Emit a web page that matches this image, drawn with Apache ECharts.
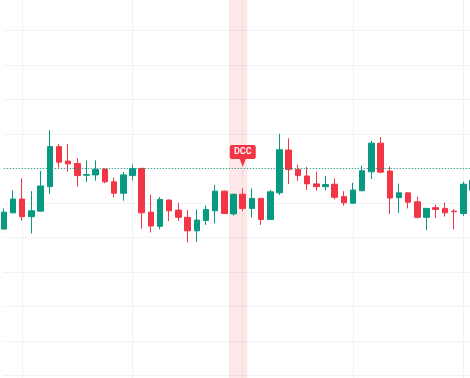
<!DOCTYPE html>
<html>
<head>
<meta charset="utf-8">
<script src="https://cdn.jsdelivr.net/npm/echarts@6/dist/echarts.min.js"></script>
<style>
  html, body { margin: 0; padding: 0; background: #fff; }
  #chart { width: 470px; height: 378px; }
</style>
</head>
<body>
<div id="chart"></div>
<script>
const categories = [
  '2024-01-02', '2024-01-03', '2024-01-04', '2024-01-05', '2024-01-08', '2024-01-09', '2024-01-10', '2024-01-11',
  '2024-01-12', '2024-01-15', '2024-01-16', '2024-01-17', '2024-01-18', '2024-01-19', '2024-01-22', '2024-01-23',
  '2024-01-24', '2024-01-25', '2024-01-26', '2024-01-29', '2024-01-30', '2024-01-31', '2024-02-01', '2024-02-02',
  '2024-02-05', '2024-02-06', '2024-02-07', '2024-02-08', '2024-02-09', '2024-02-12', '2024-02-13', '2024-02-14',
  '2024-02-15', '2024-02-16', '2024-02-19', '2024-02-20', '2024-02-21', '2024-02-22', '2024-02-23', '2024-02-26',
  '2024-02-27', '2024-02-28', '2024-02-29', '2024-03-01', '2024-03-04', '2024-03-05', '2024-03-06', '2024-03-07',
  '2024-03-08', '2024-03-11', '2024-03-12', '2024-03-13'
]

const opens = [
  25.25, 25.72, 26.12, 25.61, 25.77, 26.48, 27.64, 27.22, 27.15, 26.81, 26.82, 26.99, 26.62,
  26.29, 26.80, 27.01, 25.74, 25.33, 26.09, 25.80, 25.59, 25.20, 25.50, 25.78, 26.35, 25.69,
  26.26, 25.85, 26.14, 25.53, 26.30, 27.54, 26.98, 26.79, 26.56, 26.48, 26.55, 26.19, 26.00,
  26.36, 26.91, 27.74, 26.93, 26.16, 26.30, 26.04, 25.59, 25.87, 25.85, 25.77, 25.70, 26.38
]
const closes = [
  25.74, 26.12, 25.61, 25.78, 26.50, 27.64, 27.19, 27.14, 26.80, 26.83, 26.98, 26.62, 26.29,
  26.82, 27.00, 25.72, 25.34, 26.11, 25.78, 25.59, 25.20, 25.51, 25.82, 26.35, 25.70, 26.26,
  25.85, 26.14, 25.53, 26.33, 27.55, 26.98, 26.80, 26.56, 26.48, 26.54, 26.17, 26.01, 26.38,
  26.94, 27.74, 26.90, 26.15, 26.30, 26.03, 25.59, 25.85, 25.82, 25.72, 25.75, 26.55, 26.66
]
const lows = [
  25.24, 25.71, 25.49, 25.12, 25.76, 26.27, 27.03, 26.91, 26.48, 26.61, 26.65, 26.58, 26.17,
  26.07, 26.66, 25.26, 25.15, 25.24, 25.48, 25.49, 24.86, 24.88, 25.37, 25.41, 25.69, 25.64,
  25.77, 25.59, 25.37, 25.52, 26.24, 26.56, 26.65, 26.38, 26.36, 26.37, 26.11, 25.93, 25.99,
  26.35, 26.70, 26.87, 25.69, 25.72, 25.85, 25.56, 25.22, 25.57, 25.61, 25.24, 25.63, 26.32
]
const highs = [
  25.85, 26.37, 26.72, 26.35, 26.94, 28.12, 27.72, 27.72, 27.30, 27.24, 27.24, 27.01, 26.74,
  26.90, 27.12, 27.02, 26.25, 26.18, 26.11, 26.01, 25.80, 25.82, 25.94, 26.53, 26.37, 26.27,
  26.43, 26.43, 26.15, 26.38, 28.01, 27.88, 27.12, 27.05, 26.91, 26.79, 26.72, 26.35, 26.59,
  27.09, 27.81, 27.92, 27.06, 26.57, 26.31, 26.19, 25.86, 25.96, 26.01, 25.83, 26.62, 26.73
]

// marked bar + reference price
const markIndex = 26
const markLabel = 'DCC'
const refPrice = 27
const yTicks = { min: 20, max: 32, interval: 1 }

const upColor = '#089981'
const downColor = '#f23645'
const gridColor = '#f0f2f5'

// echarts wants [open, close, low, high]
const ohlc = opens.map((o, i) => [o, closes[i], lows[i], highs[i]])

const chart = echarts.init(document.getElementById('chart'))

chart.setOption({
  animation: false,
  grid: { left: 3.8, right: -2.5, top: -3.8, height: 414, outerBoundsMode: 'none' },
  xAxis: [
    {
      type: 'category',
      data: categories,
      boundaryGap: false,
      axisLine: { show: false },
      axisTick: { show: false },
      axisLabel: { show: false },
      splitLine: {
        show: true,
        interval: (index) => index % 12 === 2,
        lineStyle: { color: gridColor, width: 1 },
      },
    },
    {
      // helper axis so the highlight band can cover whole bars
      type: 'value',
      min: 0,
      max: categories.length - 1,
      show: false,
    },
  ],
  yAxis: {
    type: 'value',
    min: yTicks.min,
    max: yTicks.max,
    interval: yTicks.interval,
    axisLine: { show: false },
    axisTick: { show: false },
    axisLabel: { show: false },
    splitLine: { lineStyle: { color: gridColor, width: 1 } },
  },
  series: [
    {
      type: 'line',
      xAxisIndex: 1,
      data: [],
      z: 1,
      silent: true,
      markArea: {
        silent: true,
        itemStyle: { color: 'rgba(242, 54, 69, 0.12)' },
        data: [[{ xAxis: markIndex - 1.5 }, { xAxis: markIndex + 0.5 }]],
      },
    },
    {
      type: 'candlestick',
      data: ohlc,
      z: 3,
      barWidth: 6,
      itemStyle: {
        color: upColor,
        color0: downColor,
        borderColor: upColor,
        borderColor0: downColor,
        borderWidth: 1,
      },
      markLine: {
        silent: true,
        symbol: 'none',
        label: { show: false },
        lineStyle: { color: upColor, type: [1, 2], width: 1 },
        data: [{ yAxis: refPrice }],
      },
      markPoint: {
        silent: true,
        symbol: 'path://M2,0 H24 Q26,0 26,2 V12 Q26,14 24,14 H16 L13,22 L10,14 H2 Q0,14 0,12 V2 Q0,0 2,0 Z',
        symbolSize: [26, 22],
        symbolOffset: [0, -12.7],
        itemStyle: { color: downColor },
        label: {
          show: true,
          position: 'inside',
          offset: [0, -4],
          color: '#fff',
          fontSize: 9,
          fontWeight: 600,
          fontFamily: 'Roboto, sans-serif',
          formatter: markLabel,
        },
        data: [{ coord: [categories[markIndex], refPrice] }],
      },
    },
  ],
})
</script>
</body>
</html>
